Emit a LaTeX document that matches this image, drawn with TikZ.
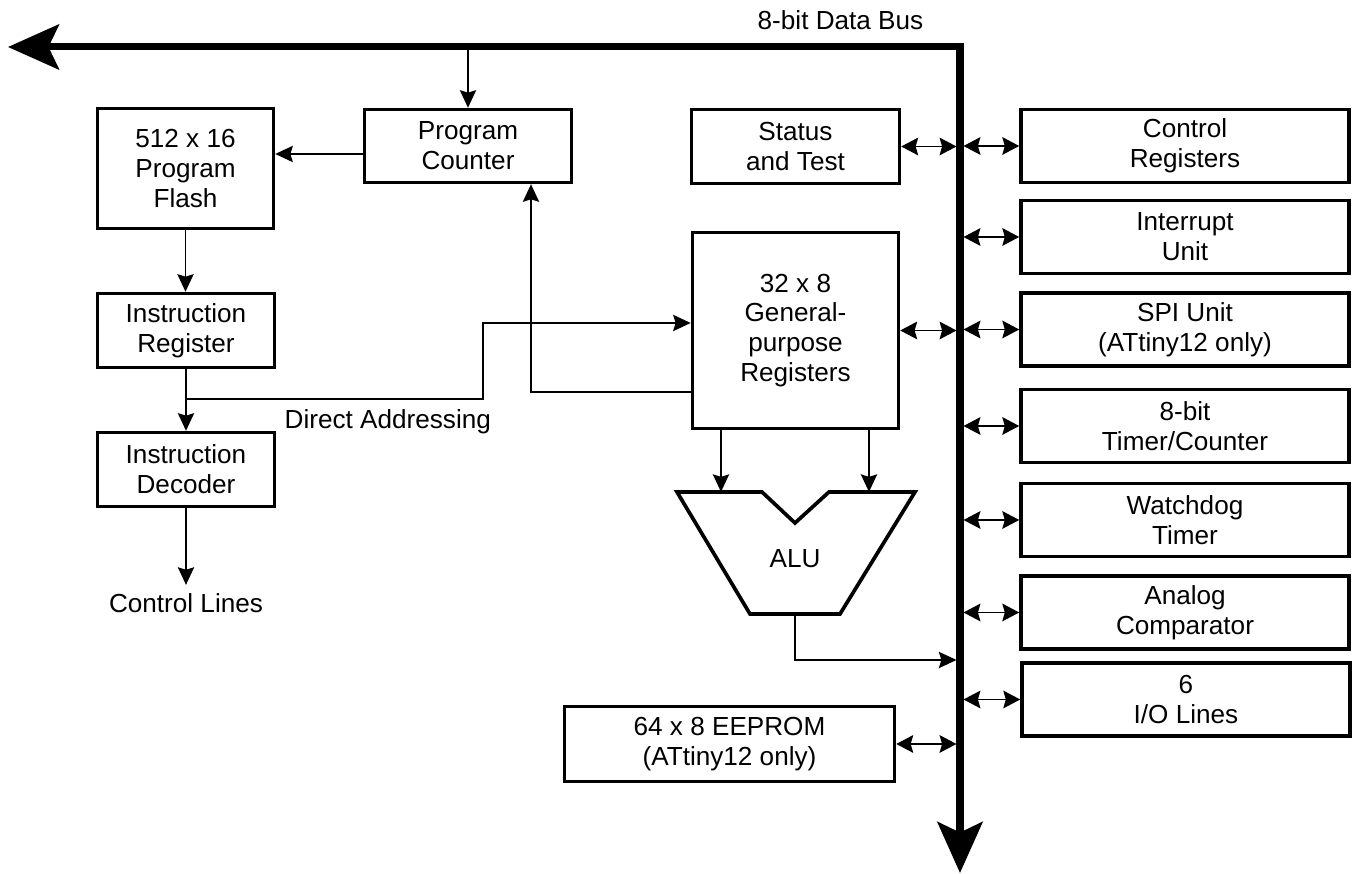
\documentclass[tikz,border=0pt]{standalone}
\usepackage{fontspec}
\setmainfont{Liberation Sans}
\usetikzlibrary{arrows.meta}

\newcommand{\blkfont}{\fontsize{7.43pt}{8.5pt}\selectfont}

\tikzset{
  blk/.style={draw, line width=0.95pt, align=center, inner sep=0pt, font=\blkfont},
  rblk/.style={blk, minimum width=3.28cm, minimum height=0.73cm},
  lbl/.style={font=\blkfont, inner sep=0pt},
  sig/.style={line width=0.55pt, -{Stealth[length=5pt, width=4.6pt, inset=0.7pt]}},
  dbl/.style={line width=0.55pt, {Stealth[length=4.8pt, width=5pt, inset=0.7pt]}-{Stealth[length=4.8pt, width=5pt, inset=0.7pt]}},
  bus/.style={line width=2pt, {Stealth[length=14.5pt, width=12.8pt, inset=3pt]}-{Stealth[length=14.5pt, width=12.8pt, inset=3pt]}},
  alushape/.style={line width=1.05pt, line join=miter},
}

\begin{document}
\begin{tikzpicture}[x=0.01cm, y=-0.01cm]
    \useasboundingbox (0,0) rectangle (1353,874);

    % data bus
    \coordinate (bus-start) at (8,47);
    \coordinate (bus-top) at (960,47);
    \coordinate (bus-end) at (960,873);
    \coordinate (bus-w) at (956.5,47);
    \coordinate (bus-e) at (963.5,47);
    \draw[bus] (bus-start) -- (bus-top) -- (bus-end);
    \node[lbl, anchor=base west] (buslabel) at (757,30) {8-bit Data Bus};

    \node[blk, minimum width=1.76cm, minimum height=1.20cm] (flash) at (185.5,168.5) {512 x 16\\Program\\Flash};
    \node[blk, minimum width=2.07cm, minimum height=0.73cm] (pc) at (468,146) {Program\\Counter};
    \node[blk, minimum width=1.77cm, minimum height=0.74cm] (ir) at (186,330.5) {Instruction\\Register};
    \node[blk, minimum width=1.77cm, minimum height=0.74cm] (idec) at (186,469.5) {Instruction\\Decoder};
    \node[lbl, anchor=base, inner sep=2.4pt] (ctl) at (186,613) {Control Lines};

    \node[blk, minimum width=2.08cm, minimum height=0.74cm] (status) at (795.5,146.5) {Status\\and Test};
    \node[blk, minimum width=2.06cm, minimum height=1.96cm] (gpr) at (795.5,330.5) {32 x 8\\General-\\purpose\\Registers};
    \node[blk, minimum width=3.30cm, minimum height=0.75cm] (eeprom) at (729.5,744) {64 x 8 EEPROM\\(ATtiny12 only)};

    \node[rblk] (ctrl) at (1185,146) {Control\\Registers};
    \node[rblk] (intr) at (1185,237) {Interrupt\\Unit};
    \node[rblk] (spi) at (1185,329.5) {SPI Unit\\(ATtiny12 only)};
    \node[rblk] (tmr) at (1185,426) {8-bit\\Timer/Counter};
    \node[rblk] (wdt) at (1185,520) {Watchdog\\Timer};
    \node[rblk] (ac) at (1185,612.5) {Analog\\Comparator};
    \node[rblk] (io) at (1186,699.5) {6\\I/O Lines};

    % ALU
    \coordinate (alu-a) at (721,492);
    \coordinate (alu-b) at (869,492);
    \coordinate (alu-out) at (795,614);
    \draw[alushape] (677,492) -- (762,492) -- (795,523) -- (829,492) -- (915,492)
      -- (840,614) -- (750,614) -- cycle;
    \node[lbl] (alu) at (795,559) {ALU};

    % program path
    \coordinate (pcflash) at (363,154);
    \draw[sig] (pc.north |- bus-top) -- (pc.north);
    \draw[sig] (pcflash) -- (pcflash -| flash.east);
    \draw[sig] (flash.south) -- (flash.south |- ir.north);
    \draw[sig] (ir.south) -- (ir.south |- idec.north);
    \draw[sig] (idec.south) -- (ctl.north);

    \coordinate (da-join) at (186,399);
    \coordinate (da-bend) at (483,323);
    \draw[sig] (da-join) -- (da-join -| da-bend) -- (da-bend) -- (da-bend -| gpr.west);
    \node[lbl, anchor=base west] (dalabel) at (284,429) {Direct Addressing};

    \coordinate (pc-fb) at (531,392);
    \draw[sig] (pc-fb -| gpr.west) -- (pc-fb) -- (pc-fb |- pc.south);

    \draw[sig] (gpr.south -| alu-a) -- (alu-a);
    \draw[sig] (gpr.south -| alu-b) -- (alu-b);
    \coordinate (alu-bus) at (956.5,660);
    \draw[sig] (alu-out) |- (alu-bus);

    % bus links
    \draw[dbl] (status.east) -- (status.east -| bus-w);
    \draw[dbl] (gpr.east) -- (gpr.east -| bus-w);
    \draw[dbl] (eeprom.east) -- (eeprom.east -| bus-w);
    \foreach \unit in {ctrl,intr,spi,tmr,wdt,ac,io}
      \draw[dbl] (\unit.west -| bus-e) -- (\unit.west);
\end{tikzpicture}
\end{document}
